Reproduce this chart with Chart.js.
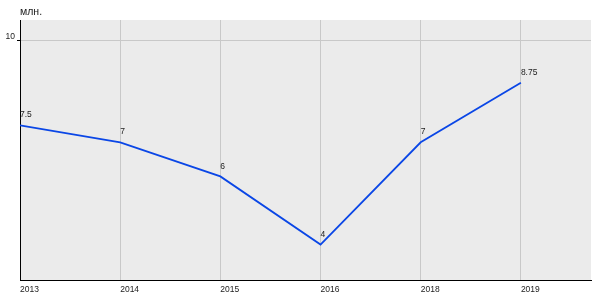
<!DOCTYPE html>
<html lang="ru">
<head>
  <meta charset="UTF-8">
  <title>млн.</title>
  <script src="https://cdn.jsdelivr.net/npm/chart.js"></script>
  <style>
    body { margin: 0; padding: 0; background: #fff; }
    .wrap { width: 600px; height: 300px; }
  </style>
</head>
<body>
  <div class="wrap"><canvas id="chart"></canvas></div>
  <script>
    const years = ['2013', '2014', '2015', '2016', '2018', '2019'];
    const values = [7.5, 7, 6, 4, 7, 8.75];
    const valueLabels = ['7.5', '7', '6', '4', '7', '8.75'];
    const yTicks = [10];
    const unitLabel = 'млн.';

    const FONT = 'Arial, "Liberation Sans", sans-serif';

    // gray plot area, unit caption and point labels
    const decor = {
      id: 'decor',
      beforeDraw(chart) {
        const { ctx, chartArea: a } = chart;
        ctx.save();
        ctx.fillStyle = '#ebebeb';
        ctx.fillRect(a.left, a.top, a.right - a.left, a.bottom - a.top);
        ctx.restore();
      },
      afterDatasetsDraw(chart) {
        const { ctx, chartArea: a } = chart;
        ctx.save();
        ctx.font = '8.5px ' + FONT;
        ctx.fillStyle = '#222';
        ctx.textAlign = 'left';
        ctx.textBaseline = 'bottom';
        chart.getDatasetMeta(0).data.forEach((pt, i) => {
          ctx.fillText(valueLabels[i], pt.x, pt.y - 6);
        });
        ctx.font = '10.5px ' + FONT;
        ctx.textBaseline = 'middle';
        ctx.fillText(unitLabel, a.left, 12);
        ctx.restore();
      }
    };

    new Chart(document.getElementById('chart'), {
      type: 'line',
      data: {
        datasets: [{
          data: values.map((v, i) => ({ x: i, y: v })),
          borderColor: '#0a46e6',
          borderWidth: 1.8,
          pointRadius: 0,
          tension: 0,
          fill: false
        }]
      },
      options: {
        responsive: true,
        maintainAspectRatio: false,
        animation: false,
        layout: { padding: { top: 20, right: 9, left: 0, bottom: 0 } },
        plugins: { legend: { display: false }, tooltip: { enabled: false } },
        scales: {
          x: {
            type: 'linear',
            min: 0,
            max: 5.7,
            afterBuildTicks(scale) { scale.ticks = years.map((_, i) => ({ value: i })); },
            afterFit(scale) { scale.height = 20; },
            grid: { color: '#c8c8c8', drawTicks: false },
            border: { color: '#000', width: 1 },
            ticks: {
              autoSkip: false,
              align: 'start',
              padding: 5,
              color: '#222',
              font: { family: FONT, size: 8.5 },
              callback: (v) => years[v]
            }
          },
          y: {
            min: 2.96,
            max: 10.59,
            afterBuildTicks(scale) { scale.ticks = yTicks.map(v => ({ value: v })); },
            afterFit(scale) { scale.width = 20; },
            grid: { color: '#c8c8c8', tickColor: '#000', tickLength: 3 },
            border: { color: '#000', width: 1 },
            ticks: {
              padding: 2,
              labelOffset: -3,
              color: '#222',
              font: { family: FONT, size: 8.5 }
            }
          }
        }
      },
      plugins: [decor]
    });
  </script>
</body>
</html>
